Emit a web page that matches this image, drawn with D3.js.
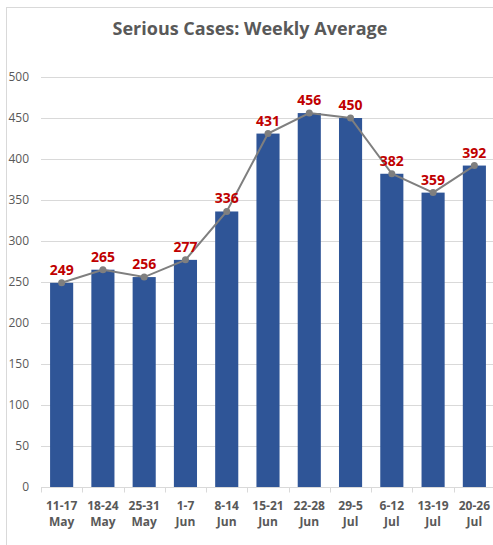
<!DOCTYPE html>
<html lang="en">
<head>
<meta charset="UTF-8">
<script src="https://d3js.org/d3.v7.min.js"></script>
<style>
  body { margin: 0; background: #fff; }
  svg text { font-family: "Open Sans", "Noto Sans", sans-serif; }
</style>
</head>
<body>
<div id="container"></div>
<script>
// chart data
const weeks = ["11-17", "18-24", "25-31", "1-7", "8-14", "15-21", "22-28", "29-5", "6-12", "13-19", "20-26"];
const months = ["May", "May", "May", "Jun", "Jun", "Jun", "Jun", "Jul", "Jul", "Jul", "Jul"];
const cases = [249, 265, 256, 277, 336, 431, 456, 450, 382, 359, 392];
const yTicks = [0, 50, 100, 150, 200, 250, 300, 350, 400, 450, 500];

const w = 493, h = 545;
const margin = { left: 41, right: -2, top: 77, bottom: 58 };

const dataset = weeks.map((d, i) => ({ week: d, month: months[i], value: cases[i], key: i }));

const svg = d3.select("#container")
  .append("svg")
  .attr("width", w)
  .attr("height", h)
  .style("display", "block");

// chart border
svg.append("rect")
  .attr("x", 6.5).attr("y", 7.5)
  .attr("width", w).attr("height", h)
  .attr("fill", "none")
  .attr("stroke", "#d9d9d9");

svg.append("text")
  .attr("x", 250)
  .attr("y", 35)
  .attr("text-anchor", "middle")
  .style("font-size", "18px")
  .style("font-weight", "bold")
  .style("fill", "#595959")
  .text("Serious Cases: Weekly Average");

const xScale = d3.scaleBand()
  .domain(dataset.map(d => d.key))
  .range([margin.left, w - margin.right])
  .paddingInner(0.44)
  .paddingOuter(0.22);

const yScale = d3.scaleLinear()
  .domain([0, 500])
  .range([h - margin.bottom, margin.top]);

// gridlines
svg.append("g")
  .selectAll("line")
  .data(yTicks.slice(1))
  .enter()
  .append("line")
  .attr("x1", margin.left)
  .attr("x2", w)
  .attr("y1", d => Math.round(yScale(d)) + 0.5)
  .attr("y2", d => Math.round(yScale(d)) + 0.5)
  .attr("stroke", "#d9d9d9");

// y axis labels
const yAxis = d3.axisLeft(yScale)
  .tickValues(yTicks)
  .tickSize(0)
  .tickPadding(12);

svg.append("g")
  .attr("transform", "translate(" + margin.left + ",0)")
  .call(yAxis)
  .call(g => g.select(".domain").remove())
  .selectAll("text")
  .style("font-size", "12px")
  .style("fill", "#595959");

// bars
svg.selectAll("rect.bar")
  .data(dataset)
  .enter()
  .append("rect")
  .attr("class", "bar")
  .attr("x", d => xScale(d.key))
  .attr("y", d => yScale(d.value))
  .attr("width", xScale.bandwidth())
  .attr("height", d => yScale(0) - yScale(d.value))
  .attr("fill", "#2f5597");

// x axis
const step = xScale.step();
const x0 = margin.left;
const xAxisG = svg.append("g")
  .attr("transform", "translate(0," + (Math.round(yScale(0)) + 0.5) + ")");

xAxisG.append("line")
  .attr("x1", margin.left).attr("x2", w)
  .attr("stroke", "#d9d9d9");

xAxisG.selectAll("line.tick")
  .data(d3.range(dataset.length + 1))
  .enter()
  .append("line")
  .attr("class", "tick")
  .attr("x1", i => Math.round(x0 + i * step) + 0.5)
  .attr("x2", i => Math.round(x0 + i * step) + 0.5)
  .attr("y1", 0).attr("y2", 5)
  .attr("stroke", "#d9d9d9");

const xlab = xAxisG.selectAll("text")
  .data(dataset)
  .enter()
  .append("text")
  .attr("x", d => xScale(d.key) + xScale.bandwidth() / 2)
  .attr("text-anchor", "middle")
  .style("font-size", "12px")
  .style("font-weight", "bold")
  .style("fill", "#595959");

xlab.append("tspan")
  .attr("x", d => xScale(d.key) + xScale.bandwidth() / 2)
  .attr("y", 22)
  .text(d => d.week);
xlab.append("tspan")
  .attr("x", d => xScale(d.key) + xScale.bandwidth() / 2)
  .attr("y", 38)
  .text(d => d.month);

// trend line
const line = d3.line()
  .x(d => xScale(d.key) + xScale.bandwidth() / 2)
  .y(d => yScale(d.value));

svg.append("path")
  .datum(dataset)
  .attr("d", line)
  .attr("fill", "none")
  .attr("stroke", "#7f7f7f")
  .attr("stroke-width", 2);

svg.selectAll("circle")
  .data(dataset)
  .enter()
  .append("circle")
  .attr("cx", d => xScale(d.key) + xScale.bandwidth() / 2)
  .attr("cy", d => yScale(d.value))
  .attr("r", 3.5)
  .attr("fill", "#7f7f7f");

// data labels
svg.selectAll("text.label")
  .data(dataset)
  .enter()
  .append("text")
  .attr("class", "label")
  .attr("x", d => xScale(d.key) + xScale.bandwidth() / 2)
  .attr("y", d => yScale(d.value) - 8)
  .attr("text-anchor", "middle")
  .style("font-size", "14px")
  .style("font-weight", "bold")
  .style("fill", "#c00000")
  .text(d => d.value);
</script>
</body>
</html>
